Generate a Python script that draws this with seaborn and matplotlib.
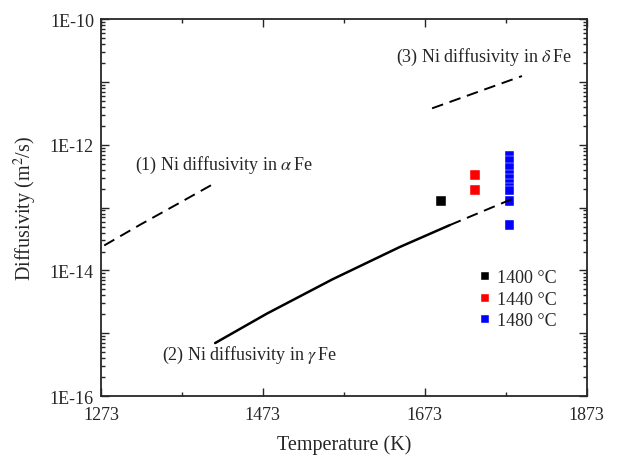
import numpy as np
import pandas as pd
import matplotlib
matplotlib.use("Agg")
import matplotlib.pyplot as plt
import matplotlib.ticker as mticker
import seaborn as sns

# --- data ---
alpha_T = [1277, 1322, 1369, 1416]
alpha_D = [2.5e-14, 5.4e-14, 1.17e-13, 2.55e-13]

gamma_solid_T = [1414, 1478, 1559, 1642, 1704]
gamma_solid_D = [7.0e-16, 2.06e-15, 7.24e-15, 2.36e-14, 5.28e-14]
gamma_dash_T = [1704, 1746, 1788]
gamma_dash_D = [5.28e-14, 8.9e-14, 1.5e-13]

delta_T = [1682, 1738, 1793]
delta_D = [3.8e-12, 6.9e-12, 1.24e-11]

exp_T = [1693, 1735, 1735, 1778, 1778, 1778, 1778, 1778, 1778, 1778, 1778, 1778, 1778]
exp_D = [1.27e-13, 3.3e-13, 1.9e-13,
         6.8e-13, 5.5e-13, 4.4e-13, 3.3e-13, 2.85e-13, 2.45e-13, 2.1e-13, 1.85e-13, 1.27e-13, 5.3e-14]
exp_label = ["1400 °C", "1440 °C", "1440 °C"] + ["1480 °C"] * 10
exp_colors = {"1400 °C": "#000000", "1440 °C": "#ff0000", "1480 °C": "#0000ff"}

sns.set_style("ticks")
plt.rcParams["font.family"] = ["Liberation Serif", "DejaVu Serif"]
plt.rcParams["mathtext.fontset"] = "stix"

fig = plt.figure(figsize=(6.35, 4.56), dpi=100)
ax = fig.add_axes([0.159, 0.129, 0.765, 0.827])

dash = (6, 3.5)
sns.lineplot(x=alpha_T, y=alpha_D, ax=ax, color="black", lw=1.4,
             linestyle=(0, dash), sort=False)
sns.lineplot(x=gamma_solid_T, y=gamma_solid_D, ax=ax, color="black", lw=1.8, sort=False)
sns.lineplot(x=gamma_dash_T, y=gamma_dash_D, ax=ax, color="black", lw=1.4,
             linestyle=(0, dash), sort=False)
sns.lineplot(x=delta_T, y=delta_D, ax=ax, color="black", lw=1.4,
             linestyle=(0, dash), sort=False)

df = pd.DataFrame({"T": exp_T, "D": exp_D, "label": exp_label})
sns.scatterplot(data=df, x="T", y="D", hue="label", palette=exp_colors, marker="s",
                s=45, edgecolor="white", linewidth=0.3, ax=ax)

ax.set_yscale("log")
ax.set_xlim(1273, 1873)
ax.set_ylim(1e-16, 1e-10)
ax.xaxis.set_major_locator(mticker.FixedLocator([1273, 1473, 1673, 1873]))
ax.xaxis.set_minor_locator(mticker.FixedLocator([1373, 1573, 1773]))
ax.yaxis.set_major_locator(mticker.LogLocator(base=10, numticks=20))
ax.yaxis.set_minor_locator(mticker.LogLocator(base=10, subs=np.arange(2, 10), numticks=20))
ax.yaxis.set_major_formatter(mticker.FuncFormatter(
    lambda v, p: "1E%d" % round(np.log10(v)) if round(np.log10(v)) % 2 == 0 else ""))
ax.yaxis.set_minor_formatter(mticker.NullFormatter())

ax.tick_params(which="both", direction="in", top=True, right=True, width=1)
ax.tick_params(which="major", length=6)
ax.tick_params(which="minor", length=3)
ax.tick_params(axis="x", which="major", pad=7, labelsize=13)
ax.tick_params(axis="y", which="major", pad=5, labelsize=13)
for s in ax.spines.values():
    s.set_linewidth(1.3)

ax.set_xlabel("Temperature (K)", fontsize=14.5, labelpad=8)
ax.set_ylabel("Diffusivity (m$^{2}$/s)", fontsize=14.5, labelpad=8)

ax.text(1315, 10**-12.31, r"(1) Ni diffusivity in $\alpha\,$Fe", fontsize=13, va="center")
ax.text(1349, 10**-15.33, r"(2) Ni diffusivity in $\gamma\,$Fe", fontsize=13, va="center")
ax.text(1638, 10**-10.59, r"(3) Ni diffusivity in $\delta\,$Fe", fontsize=13, va="center")

leg = ax.legend(loc="upper left", bbox_to_anchor=(0.758, 0.36), frameon=False,
                fontsize=13, handletextpad=0.25, labelspacing=0.25, markerscale=0.8,
                borderpad=0, handlelength=0.8)

fig.savefig("out.png", dpi=100)
